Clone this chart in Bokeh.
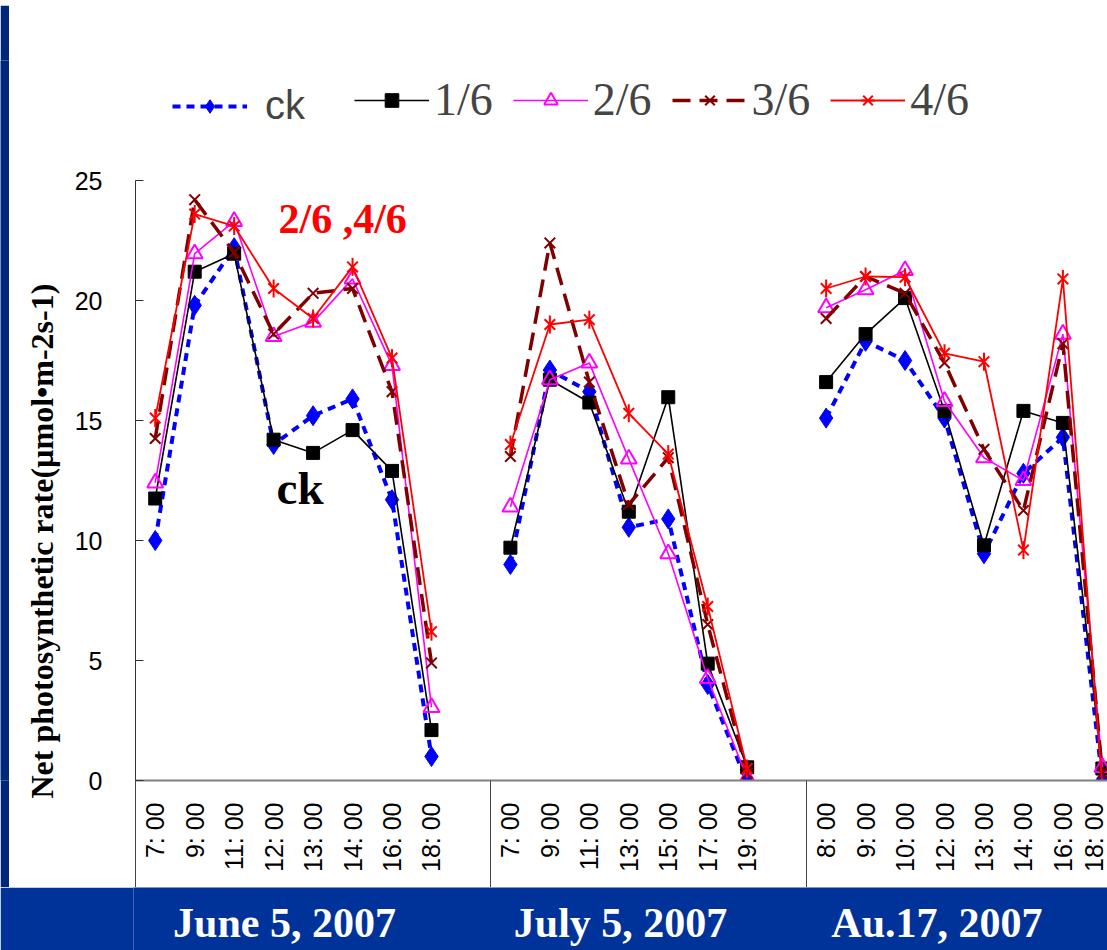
import math
from bokeh.plotting import figure
from bokeh.models import (FixedTicker, Legend, LegendItem, Label, Range1d,
                          ColumnDataSource, Title)
from bokeh.layouts import column, row
from bokeh.embed import file_html
from bokeh.resources import INLINE
from bokeh.core.properties import value

# ---------------- data ----------------
dates = ["June 5, 2007", "July 5, 2007", "Au.17, 2007"]
june_times = ["7: 00", "9: 00", "11: 00", "12: 00", "13: 00", "14: 00", "16: 00", "18: 00"]
july_times = ["7: 00", "9: 00", "11: 00", "13: 00", "15: 00", "17: 00", "19: 00"]
aug_times = ["8: 00", "9: 00", "10: 00", "12: 00", "13: 00", "14: 00", "16: 00", "18: 00"]

ck_june = [10.0, 19.8, 22.2, 14.0, 15.2, 15.9, 11.7, 1.0]
ck_july = [9.0, 17.1, 16.2, 10.55, 10.9, 4.0, -0.1]
ck_aug = [15.1, 18.3, 17.5, 15.1, 9.45, 12.8, 14.3, 0.0]

p1_june = [11.75, 21.2, 21.95, 14.2, 13.65, 14.6, 12.9, 2.1]
p1_july = [9.7, 16.7, 15.75, 11.2, 15.97, 4.87, 0.55]
p1_aug = [16.6, 18.6, 20.1, 15.4, 9.8, 15.4, 14.9, 0.5]

p2_june = [12.4, 21.95, 23.3, 18.5, 19.1, 20.9, 17.3, 3.05]
p2_july = [11.4, 16.7, 17.4, 13.4, 9.45, 4.25, 0.1]
p2_aug = [19.7, 20.45, 21.25, 15.8, 13.45, 12.5, 18.6, 0.55]

p3_june = [14.25, 24.2, 22.0, 18.6, 20.3, 20.5, 16.2, 4.9]
p3_july = [13.5, 22.4, 16.6, 11.5, 13.45, 6.5, 0.3]
p3_aug = [19.25, 21.0, 20.3, 17.4, 13.8, 11.25, 18.2, 0.3]

p4_june = [15.1, 23.6, 23.1, 20.5, 19.25, 21.4, 17.6, 6.2]
p4_july = [14.0, 19.0, 19.2, 15.3, 13.6, 7.25, 0.5]
p4_aug = [20.5, 21.0, 20.97, 17.8, 17.45, 9.6, 20.9, -0.25]

y_ticks = [0, 5, 10, 15, 20, 25]
series_names = ["ck", "1/6", "2/6", "3/6", "4/6"]
y_title = "Net photosynthetic rate(µmol•m-2s-1)"

NAVY = "#001a52"
BLUE = "#003399"

# ---------------- category layout ----------------
groups = [june_times, july_times, aug_times]
tick_pos, tick_lab, bounds, centers = [], [], [-0.5], []
pos = 0
for gi, times in enumerate(groups):
    left = pos - 0.5
    for t in times:
        tick_pos.append(pos)
        tick_lab.append(t)
        pos += 1
    right = pos - 0.5 + (1 if gi < len(groups) - 1 else 0)
    centers.append((left + right) / 2)
    if gi < len(groups) - 1:
        bounds.append(pos + 0.5)
        pos += 1


def build(parts):
    xs, ys = [], []
    for gi, vals in enumerate(parts):
        start = sum(len(g) + 1 for g in groups[:gi])
        for i, v in enumerate(vals):
            xs.append(start + i)
            ys.append(v)
        if gi < len(parts) - 1:
            xs.append(start + len(vals))
            ys.append(float("nan"))
    return xs, ys


data = {
    "ck": [ck_june, ck_july, ck_aug],
    "1/6": [p1_june, p1_july, p1_aug],
    "2/6": [p2_june, p2_july, p2_aug],
    "3/6": [p3_june, p3_july, p3_aug],
    "4/6": [p4_june, p4_july, p4_aug],
}

# ---------------- main figure ----------------
p = figure(width=1098, height=882, x_range=Range1d(-0.5, 24.13), y_range=Range1d(0, 30),
           toolbar_location=None, output_backend="svg",
           min_border_left=124, min_border_right=0, min_border_top=55, min_border_bottom=107,
           background_fill_color="white", border_fill_color="white", outline_line_color=None)
p.xgrid.visible = False
p.ygrid.visible = False

renderers = {}
xs, ys = build(data["ck"])
src = ColumnDataSource(dict(x=xs, y=ys))
r1 = p.line("x", "y", source=src, line_color="#0000FF", line_width=4, line_dash="8 6")
r2 = p.scatter("x", "y", source=src, marker="diamond", size=20, fill_color="#0000FF", line_color="#0000FF")
renderers["ck"] = [r1, r2]

xs, ys = build(data["1/6"])
src = ColumnDataSource(dict(x=xs, y=ys))
r1 = p.line("x", "y", source=src, line_color="black", line_width=1.6)
r2 = p.scatter("x", "y", source=src, marker="square", size=13, fill_color="black", line_color="black")
renderers["1/6"] = [r1, r2]

xs, ys = build(data["2/6"])
src = ColumnDataSource(dict(x=xs, y=ys))
r1 = p.line("x", "y", source=src, line_color="#FF00FF", line_width=1.6)
r2 = p.scatter("x", "y", source=src, marker="triangle", size=16, fill_alpha=0,
               line_color="#FF00FF", line_width=2)
renderers["2/6"] = [r1, r2]

xs, ys = build(data["3/6"])
src = ColumnDataSource(dict(x=xs, y=ys))
r1 = p.line("x", "y", source=src, line_color="#800000", line_width=3.5, line_dash="18 9")
r2 = p.scatter("x", "y", source=src, marker="x", size=15, line_color="#800000", line_width=2)
renderers["3/6"] = [r1, r2]

xs, ys = build(data["4/6"])
src = ColumnDataSource(dict(x=xs, y=ys))
r1 = p.line("x", "y", source=src, line_color="#FF0000", line_width=1.8)
r2 = p.scatter("x", "y", source=src, marker="x", size=15, line_color="#FF0000", line_width=2)
r3 = p.scatter("x", "y", source=src, marker="dash", angle=math.pi / 2, size=18,
               line_color="#FF0000", line_width=2)
renderers["4/6"] = [r1, r2, r3]

# axes
p.yaxis.bounds = (y_ticks[0], y_ticks[-1])
p.yaxis.ticker = FixedTicker(ticks=y_ticks)
p.yaxis.major_label_text_font = "Liberation Sans"
p.yaxis.major_label_text_font_size = "25px"
p.yaxis.major_label_text_color = "black"
p.yaxis.major_label_standoff = 33
p.yaxis.major_tick_in = 8
p.yaxis.major_tick_out = 0
p.yaxis.minor_tick_line_color = None
p.yaxis.axis_line_color = "#333333"
p.yaxis.major_tick_line_color = "#333333"

p.xaxis.ticker = FixedTicker(ticks=tick_pos, minor_ticks=bounds)
p.xaxis.major_label_overrides = {k: v for k, v in zip(tick_pos, tick_lab)}
p.xaxis.major_label_orientation = math.pi / 2
p.xaxis.major_label_text_font = "Liberation Sans"
p.xaxis.major_label_text_font_size = "25px"
p.xaxis.major_label_text_color = "black"
p.xaxis.major_label_standoff = 22 - 107
p.xaxis.major_tick_in = 0
p.xaxis.major_tick_out = 0
p.xaxis.major_tick_line_color = None
p.xaxis.minor_tick_in = 0
p.xaxis.minor_tick_out = 107
p.xaxis.minor_tick_line_color = "#444444"
p.xaxis.minor_tick_line_width = 1
p.xaxis.axis_line_color = "#808080"
p.xaxis.axis_line_width = 2

# y-axis title as a left-side title, starting just below the frame bottom like the slide
p.add_layout(Title(text=y_title, align="left", offset=-18, standoff=24,
                   text_font="Liberation Serif", text_font_style="bold",
                   text_font_size="32px", text_color="black"), "left")

# in-plot annotations
p.add_layout(Label(x=4.75, y=23.4, text="2/6 ,4/6", text_font="Liberation Serif",
                   text_font_style="bold", text_font_size="42px", text_color="#FF0000",
                   text_align="center", text_baseline="middle"))
p.add_layout(Label(x=3.67, y=12.2, text="ck", text_font="Liberation Serif",
                   text_font_style="bold", text_font_size="47px", text_color="black",
                   text_align="center", text_baseline="middle"))

# legends
leg_common = dict(orientation="horizontal", glyph_width=75, glyph_height=34,
                  border_line_color=None, background_fill_alpha=0, padding=0, margin=0)
leg1 = Legend(items=[LegendItem(label="ck", renderers=renderers["ck"])],
              location=(37, 652), label_text_font="Liberation Sans",
              label_text_font_size="40px", label_standoff=18, **leg_common)
leg2 = Legend(items=[LegendItem(label=n, renderers=renderers[n]) for n in series_names[1:]],
              location=(219, 654), label_text_font="Liberation Serif",
              label_text_font_size="46px", label_standoff=5, spacing=20, **leg_common)
p.add_layout(leg1, "center")
p.add_layout(leg2, "center")

# ---------------- decorative slide strips ----------------
def strip(w, h, color):
    f = figure(width=w, height=h, toolbar_location=None, output_backend="svg",
               min_border_left=0, min_border_right=0, min_border_top=0, min_border_bottom=0,
               background_fill_color=color, border_fill_color=color, outline_line_color=None)
    f.axis.visible = False
    f.xgrid.visible = False
    f.ygrid.visible = False
    return f

top_strip = strip(1107, 5, NAVY)
left_strip = strip(9, 882, "#00277a")

# ---------------- bottom band with dates ----------------
band = figure(width=1107, height=63, x_range=p.x_range, y_range=Range1d(0, 1),
              toolbar_location=None, output_backend="svg",
              min_border_left=133, min_border_right=0, min_border_top=0, min_border_bottom=0,
              background_fill_color=BLUE, border_fill_color=BLUE,
              outline_line_color=None)
band.axis.visible = False
band.xgrid.visible = False
band.ygrid.visible = False
band.text(x=centers, y=[0.44] * len(dates), text=dates, text_color="white",
          text_font=value("Liberation Serif"), text_font_style="bold", text_font_size="42px",
          text_align="center", text_baseline="middle", x_offset=-27)

layout = column(top_strip, row(left_strip, p), band)
open("out.html", "w").write(file_html(layout, INLINE))
